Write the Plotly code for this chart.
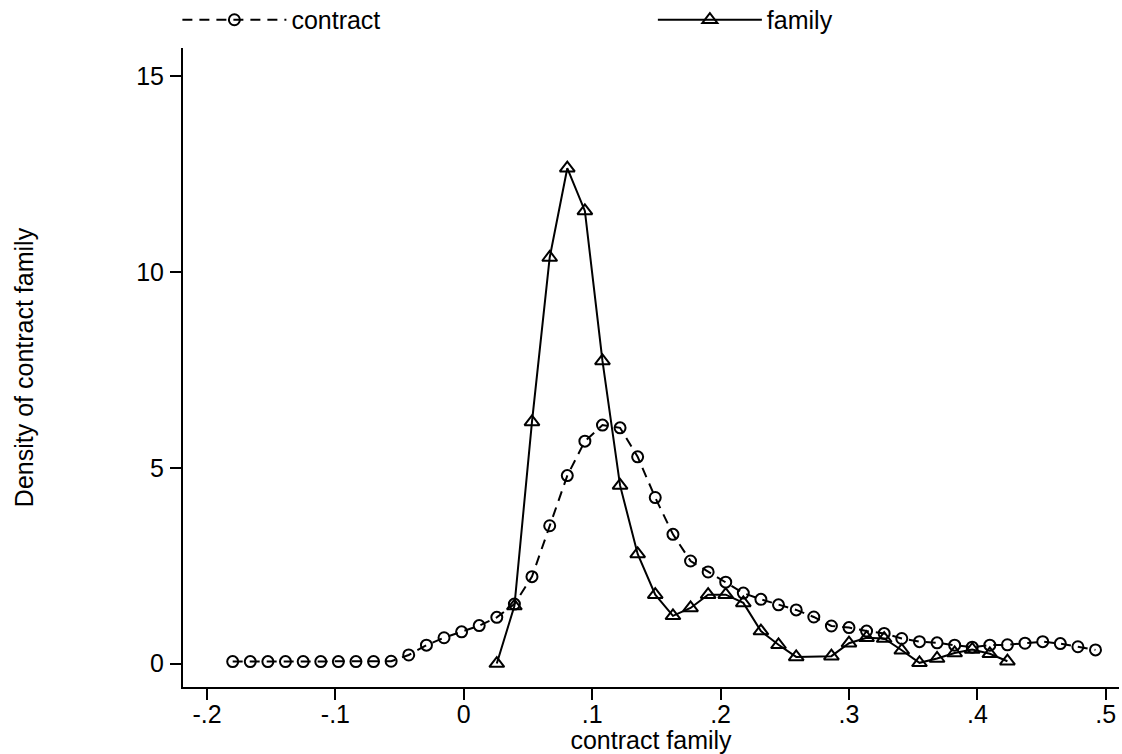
import plotly.graph_objects as go

# Evaluation grid (kdensity points)
grid_x = [-0.1800, -0.1663, -0.1526, -0.1389, -0.1251, -0.1114, -0.0977, -0.0840, -0.0703, -0.0566,
          -0.0429, -0.0291, -0.0154, -0.0017, 0.0120, 0.0257, 0.0394, 0.0531, 0.0669, 0.0806,
          0.0943, 0.1080, 0.1217, 0.1354, 0.1491, 0.1629, 0.1766, 0.1903, 0.2040, 0.2177,
          0.2314, 0.2451, 0.2589, 0.2726, 0.2863, 0.3000, 0.3137, 0.3274, 0.3411, 0.3549,
          0.3686, 0.3823, 0.3960, 0.4097, 0.4234, 0.4371, 0.4509, 0.4646, 0.4783, 0.4920]

contract_y = [0.05, 0.05, 0.05, 0.05, 0.05, 0.05, 0.05, 0.05, 0.05, 0.06,
              0.22, 0.47, 0.66, 0.81, 0.97, 1.18, 1.52, 2.22, 3.52, 4.80,
              5.68, 6.09, 6.02, 5.28, 4.24, 3.30, 2.62, 2.34, 2.08, 1.80,
              1.64, 1.50, 1.37, 1.19, 0.96, 0.92, 0.83, 0.77, 0.64, 0.56,
              0.53, 0.47, 0.42, 0.47, 0.48, 0.52, 0.56, 0.51, 0.43, 0.35]

family_x = [0.0257, 0.0394, 0.0531, 0.0669, 0.0806, 0.0943, 0.1080, 0.1217, 0.1354, 0.1491,
            0.1629, 0.1766, 0.1903, 0.2040, 0.2177, 0.2314, 0.2451, 0.2589, 0.2863, 0.3000,
            0.3137, 0.3274, 0.3411, 0.3549, 0.3686, 0.3823, 0.3960, 0.4097, 0.4234]
family_y = [0.00, 1.47, 6.17, 10.37, 12.65, 11.56, 7.73, 4.55, 2.80, 1.76,
            1.22, 1.42, 1.76, 1.76, 1.55, 0.83, 0.48, 0.17, 0.19, 0.52,
            0.66, 0.64, 0.34, 0.02, 0.13, 0.27, 0.36, 0.25, 0.06]

x_tickvals = [-0.2, -0.1, 0, 0.1, 0.2, 0.3, 0.4, 0.5]
x_ticktext = ["-.2", "-.1", "0", ".1", ".2", ".3", ".4", ".5"]
y_tickvals = [0, 5, 10, 15]
y_ticktext = ["0", "5", "10", "15"]

FONT = "Liberation Sans, Arial, Helvetica, sans-serif"
FS = 25

fig = go.Figure()
fig.add_trace(go.Scatter(
    x=grid_x, y=contract_y, mode="lines+markers", name="contract", legend="legend",
    line=dict(color="black", width=2, dash="10px,7px"),
    marker=dict(symbol="circle-open", size=11, color="black", line=dict(width=2, color="black")),
))
fig.add_trace(go.Scatter(
    x=family_x, y=family_y, mode="lines+markers", name="family", legend="legend2",
    line=dict(color="black", width=2),
    marker=dict(symbol="triangle-up-open", size=13, color="black", line=dict(width=2, color="black")),
))

legend_common = dict(
    orientation="h", xanchor="left", yref="container", y=0.9735, yanchor="middle",
    itemwidth=104, font=dict(family=FONT, size=FS, color="black"),
    bgcolor="rgba(0,0,0,0)", borderwidth=0,
)

fig.update_layout(
    width=1122, height=754,
    margin=dict(l=183, r=3, t=48, b=67),
    paper_bgcolor="white", plot_bgcolor="white",
    font=dict(family=FONT, size=FS, color="black"),
    showlegend=True,
    legend=dict(x=-0.006, **legend_common),
    legend2=dict(x=0.502, **legend_common),
    xaxis=dict(
        range=[-0.2187, 0.5103], tickvals=x_tickvals, ticktext=x_ticktext,
        showline=True, linecolor="black", linewidth=2, mirror=False,
        ticks="outside", ticklen=11, tickwidth=2, tickcolor="black",
        showgrid=False, zeroline=False, ticklabelstandoff=-7,
        title=dict(text="contract family", standoff=0, font=dict(size=FS)),
        automargin=True,
    ),
    yaxis=dict(
        range=[-0.598, 15.72], tickvals=y_tickvals, ticktext=y_ticktext,
        showline=True, linecolor="black", linewidth=2, mirror=False,
        ticks="outside", ticklen=11, tickwidth=2, tickcolor="black",
        showgrid=False, zeroline=False, ticklabelstandoff=1,
        title=dict(text="Density of contract family", standoff=95, font=dict(size=FS)),
        automargin=True,
    ),
)

fig.write_html("out.html")
